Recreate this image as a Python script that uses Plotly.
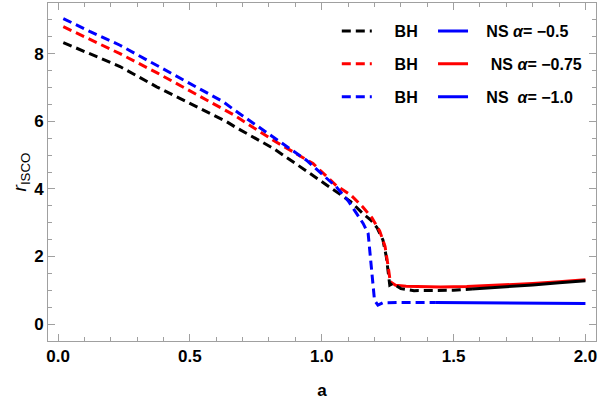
import plotly.graph_objects as go

# BH (dashed) curves
a_bh_black = [0.02, 0.12, 0.235, 0.374, 0.5, 0.639, 0.67, 0.816, 0.955, 1.055, 1.11, 1.155, 1.186, 1.21, 1.232, 1.245, 1.251, 1.258, 1.27, 1.3, 1.35, 1.42, 1.5, 1.57]
r_bh_black = [8.33, 7.99, 7.62, 7.02, 6.52, 5.99, 5.84, 5.2, 4.46, 3.92, 3.62, 3.28, 3.08, 2.85, 2.49, 1.99, 1.55, 1.15, 1.2, 1.05, 0.99, 0.99, 1.0, 1.04]

a_bh_red = [0.02, 0.12, 0.235, 0.374, 0.5, 0.626, 0.664, 0.816, 0.967, 1.055, 1.11, 1.155, 1.19, 1.22, 1.24, 1.25, 1.26]
r_bh_red = [8.8, 8.42, 8.0, 7.44, 6.9, 6.38, 6.2, 5.44, 4.75, 4.1, 3.82, 3.47, 3.15, 2.75, 2.3, 1.8, 1.25]

a_bh_blue = [0.02, 0.12, 0.235, 0.374, 0.5, 0.626, 0.664, 0.803, 0.942, 1.055, 1.1, 1.13, 1.157, 1.176, 1.188, 1.2, 1.213, 1.232, 1.3, 1.43]
r_bh_blue = [9.04, 8.66, 8.25, 7.66, 7.12, 6.58, 6.36, 5.61, 4.85, 4.06, 3.65, 3.3, 2.98, 2.68, 1.6, 0.71, 0.56, 0.63, 0.64, 0.64]

# NS (solid) curves
a_ns_black = [1.57, 1.7, 1.8, 1.9, 2.0]
r_ns_black = [1.04, 1.1, 1.16, 1.22, 1.28]

a_ns_red = [1.26, 1.28, 1.32, 1.36, 1.45, 1.55, 1.7, 1.8, 1.9, 2.0]
r_ns_red = [1.25, 1.15, 1.12, 1.11, 1.1, 1.11, 1.16, 1.2, 1.25, 1.31]

a_ns_blue = [1.43, 1.6, 1.8, 2.0]
r_ns_blue = [0.64, 0.63, 0.62, 0.61]

x_ticks = [0.0, 0.5, 1.0, 1.5, 2.0]
y_ticks = [0, 2, 4, 6, 8]

BLACK = "#000000"
RED = "#ff0000"
BLUE = "#0000ff"
DASH = "9px,5px"
LW = 3
FONT = "Liberation Sans, Arial, sans-serif"
NB = "\u00a0"

fig = go.Figure()

# NS solid (under dashed where overlapping)
fig.add_trace(go.Scatter(x=a_ns_red, y=r_ns_red, mode="lines",
                         line=dict(color=RED, width=LW), showlegend=False))
fig.add_trace(go.Scatter(x=a_ns_blue, y=r_ns_blue, mode="lines",
                         line=dict(color=BLUE, width=LW), showlegend=False))
fig.add_trace(go.Scatter(x=a_bh_black, y=r_bh_black, mode="lines",
                         line=dict(color=BLACK, width=LW, dash=DASH),
                         name=NB * 4 + "BH", legend="legend", legendgroup="b1"))
fig.add_trace(go.Scatter(x=a_bh_red, y=r_bh_red, mode="lines",
                         line=dict(color=RED, width=LW, dash=DASH),
                         name=NB * 4 + "BH", legend="legend", legendgroup="b2"))
fig.add_trace(go.Scatter(x=a_bh_blue, y=r_bh_blue, mode="lines",
                         line=dict(color=BLUE, width=LW, dash=DASH),
                         name=NB * 4 + "BH", legend="legend", legendgroup="b3"))
fig.add_trace(go.Scatter(x=a_ns_black, y=r_ns_black, mode="lines",
                         line=dict(color=BLACK, width=LW), showlegend=False))

# NS legend entries
fig.add_trace(go.Scatter(x=[None], y=[None], mode="lines",
                         line=dict(color=BLUE, width=LW), legend="legend2",
                         legendgroup="n1", name=NB * 3 + "NS <i>α</i>= −0.5"))
fig.add_trace(go.Scatter(x=[None], y=[None], mode="lines",
                         line=dict(color=RED, width=LW), legend="legend2",
                         legendgroup="n2", name=NB * 4 + "NS <i>α</i>= −0.75"))
fig.add_trace(go.Scatter(x=[None], y=[None], mode="lines",
                         line=dict(color=BLUE, width=LW), legend="legend2",
                         legendgroup="n3", name=NB * 3 + "NS" + NB * 2 + "<i>α</i>= −1.0"))

axis_common = dict(
    showgrid=False, zeroline=False, showline=True, linecolor="#a0a0a0", linewidth=1,
    mirror="ticks", ticks="inside", ticklen=7, tickcolor="#a0a0a0", tickwidth=1,
    tickfont=dict(family=FONT, size=17, color="black", weight="bold"),
)

fig.update_layout(
    width=600, height=405,
    margin=dict(l=48, r=4, t=3, b=64),
    paper_bgcolor="white", plot_bgcolor="white",
    font=dict(family=FONT, color="black"),
    xaxis=dict(range=[-0.038, 2.04], tickvals=x_ticks, ticktext=[f"{v:.1f}" for v in x_ticks],
               minor=dict(dtick=0.1, tick0=0, ticks="inside", ticklen=4, tickcolor="#a0a0a0"),
               title=dict(text="a", font=dict(family=FONT, size=17, weight="bold"), standoff=18),
               **axis_common),
    yaxis=dict(range=[-0.5, 9.5], tickvals=y_ticks,
               minor=dict(dtick=0.5, tick0=0, ticks="inside", ticklen=4, tickcolor="#a0a0a0"),
               title=dict(text="<i>r</i><sub>ISCO</sub>", font=dict(family=FONT, size=19), standoff=2),
               **axis_common),
    legend=dict(x=0.527, y=0.967, xanchor="left", yanchor="top", bgcolor="rgba(0,0,0,0)",
                tracegroupgap=9, traceorder="grouped",
                font=dict(family=FONT, size=16, color="black", weight="bold")),
    legend2=dict(x=0.7026, y=0.967, xanchor="left", yanchor="top", bgcolor="rgba(0,0,0,0)",
                 tracegroupgap=9, traceorder="grouped",
                 font=dict(family=FONT, size=16, color="black", weight="bold")),
)

fig.write_html("out.html")
